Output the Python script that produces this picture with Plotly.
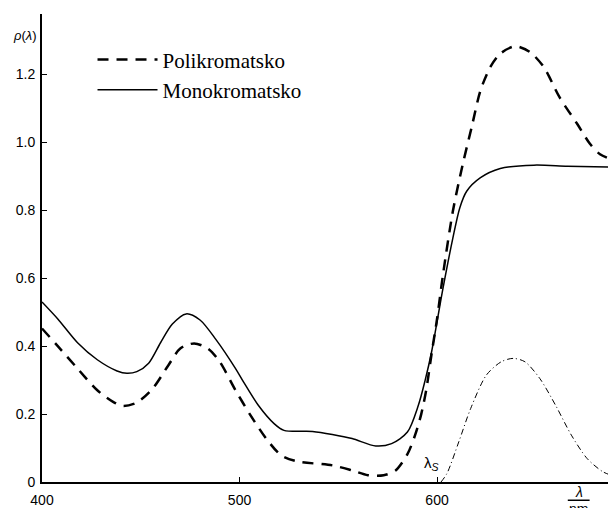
import plotly.graph_objects as go

# Polikromatsko (dashed)
poly_wl = [400, 408, 418, 428, 436, 441, 448, 456, 464, 470, 477, 484, 490, 498, 505.5, 513.5,
           521, 529, 547, 557, 565, 573, 579, 585, 589, 592, 594.5, 597.3, 600, 603, 608, 613,
           617.5, 622, 627, 632, 639.5, 647, 654, 662, 671, 677.5, 682.5, 690.6]
poly_rho = [0.452, 0.40, 0.334, 0.27, 0.236, 0.224, 0.234, 0.275, 0.344, 0.393, 0.408, 0.393,
            0.354, 0.27, 0.197, 0.128, 0.079, 0.061, 0.049, 0.034, 0.02, 0.02, 0.034, 0.082,
            0.14, 0.2, 0.27, 0.38, 0.48, 0.61, 0.797, 0.935, 1.044, 1.153, 1.222, 1.261, 1.283,
            1.266, 1.222, 1.133, 1.054, 0.995, 0.965, 0.945]

# Monokromatsko (solid)
mono_wl = [400, 408, 418, 428, 438, 443, 448, 454, 460, 466, 473, 480, 488, 498, 502, 509.5,
           517.5, 522.5, 537, 547, 557, 569, 577, 585, 590.5, 594, 597.3, 603, 608, 611.5, 615,
           622, 632, 649, 666, 690.6]
mono_rho = [0.53, 0.48, 0.41, 0.36, 0.327, 0.32, 0.325, 0.35, 0.41, 0.465, 0.495, 0.477, 0.42,
            0.334, 0.295, 0.226, 0.172, 0.152, 0.149, 0.14, 0.128, 0.106, 0.113, 0.147, 0.225,
            0.30, 0.385, 0.57, 0.718, 0.807, 0.856, 0.896, 0.923, 0.933, 0.930, 0.927]

# Source spectrum (dash-dot)
src_wl = [602, 605, 611, 617, 625, 632.5, 638.5, 644.5, 652, 660, 668, 676, 684, 690.6]
src_rho = [0.0, 0.025, 0.118, 0.216, 0.315, 0.354, 0.364, 0.354, 0.305, 0.226, 0.138, 0.069,
           0.03, 0.015]

y_ticks = [0, 0.2, 0.4, 0.6, 0.8, 1.0, 1.2]
y_ticktext = ["0", "0.2", "0.4", "0.6", "0.8", "1.0", "1.2"]
x_ticks = [400, 500, 600]
x_ticktext = ["400", "500", "600"]

fig = go.Figure()
fig.add_trace(go.Scatter(x=poly_wl, y=poly_rho, mode="lines", name="Polikromatsko",
                         line=dict(color="black", width=2.5, dash="11px,8px",
                                   shape="spline", smoothing=0.8)))
fig.add_trace(go.Scatter(x=mono_wl, y=mono_rho, mode="lines", name="Monokromatsko",
                         line=dict(color="black", width=1.5, shape="spline", smoothing=0.8)))
fig.add_trace(go.Scatter(x=src_wl, y=src_rho, mode="lines", showlegend=False,
                         line=dict(color="black", width=1, dash="6px,3px,1px,3px",
                                   shape="spline", smoothing=0.8)))

tickfont = dict(family="Liberation Sans, Arial, sans-serif", size=14, color="black")

fig.update_layout(
    width=608, height=500,
    margin=dict(l=34, r=0, t=6, b=21),
    paper_bgcolor="white", plot_bgcolor="white",
    showlegend=True,
    legend=dict(x=0.088, y=0.946, xanchor="left", yanchor="top",
                font=dict(family="Liberation Serif, Times New Roman, serif", size=21,
                          color="black"),
                bgcolor="rgba(0,0,0,0)", itemwidth=60, tracegroupgap=0),
    xaxis=dict(range=[400, 690.6], showline=True, linecolor="black", linewidth=2,
               ticks="inside", ticklen=5, tickwidth=1, tickcolor="black",
               tickvals=x_ticks, ticktext=x_ticktext, tickfont=tickfont,
               showgrid=False, zeroline=False, ticklabelstandoff=4),
    yaxis=dict(range=[0, 1.378], showline=True, linecolor="black", linewidth=2,
               ticks="inside", ticklen=5, tickwidth=1, tickcolor="black",
               tickvals=y_ticks, ticktext=y_ticktext, tickfont=tickfont,
               showgrid=False, zeroline=False, ticklabelstandoff=2),
)

fig.add_annotation(text="<i>ρ</i>(<i>λ</i>)", xref="paper", yref="paper",
                   x=-0.03, y=0.955, xanchor="center", yanchor="middle", showarrow=False,
                   font=dict(family="Liberation Sans, Arial, sans-serif", size=13, color="black"))
fig.add_annotation(text="λ<sub><i>S</i></sub>", x=597, y=0.055, xanchor="center",
                   yanchor="middle", showarrow=False,
                   font=dict(family="Liberation Sans, Arial, sans-serif", size=15, color="black"))
# unit fraction λ / nm
fig.add_annotation(text="<i>λ</i>", xref="paper", yref="paper", x=0.935, y=-0.022,
                   xanchor="center", yanchor="middle", showarrow=False,
                   font=dict(family="Liberation Sans, Arial, sans-serif", size=14, color="black"))
fig.add_annotation(text="nm", xref="paper", yref="paper", x=0.935, y=-0.058,
                   xanchor="center", yanchor="middle", showarrow=False,
                   font=dict(family="Liberation Sans, Arial, sans-serif", size=14, color="black"))
fig.add_shape(type="line", xref="paper", yref="paper", x0=0.916, x1=0.954,
              y0=-0.039, y1=-0.039, line=dict(color="black", width=1.5))

fig.write_html("out.html")
